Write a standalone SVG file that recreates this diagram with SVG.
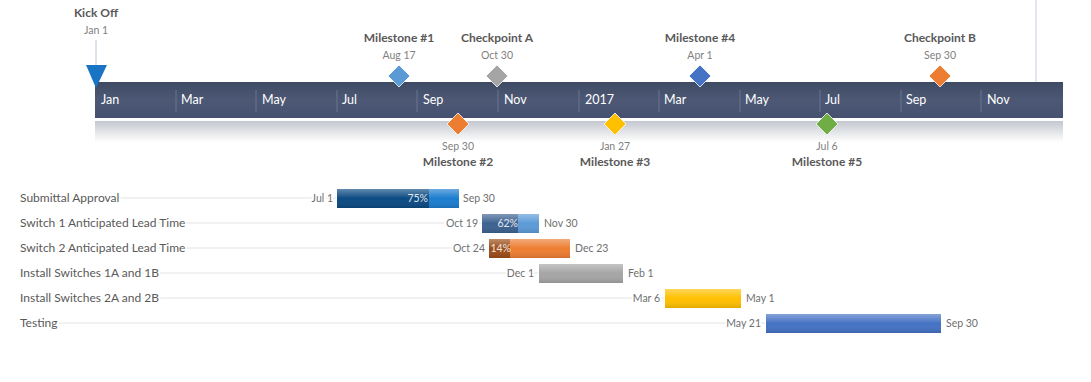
<svg xmlns="http://www.w3.org/2000/svg" width="1091" height="382" viewBox="0 0 1091 382">
<defs>
<linearGradient id="band" x1="0" y1="0" x2="0" y2="1"><stop offset="0" stop-color="#3f4a63"/><stop offset="0.5" stop-color="#4d5875"/><stop offset="1" stop-color="#465170"/></linearGradient>
<linearGradient id="shade" x1="0" y1="0" x2="0" y2="1"><stop offset="0" stop-color="#c3c7cf"/><stop offset="1" stop-color="#ffffff"/></linearGradient>
<linearGradient id="gloss" x1="0" y1="0" x2="0" y2="1"><stop offset="0" stop-color="#fff" stop-opacity="0.35"/><stop offset="0.5" stop-color="#fff" stop-opacity="0"/><stop offset="1" stop-color="#000" stop-opacity="0.12"/></linearGradient>
</defs>
<style>
text{font-family:Lato,"Open Sans","Liberation Sans",sans-serif}
.title{font-size:12px;fill:#595959;font-weight:bold;text-anchor:middle}
.date{font-size:10.5px;fill:#7f7f7f;text-anchor:middle}
.mon{font-size:12.5px;fill:#ffffff}
.sep{stroke:#6a7590;stroke-width:1}
.row{font-size:12px;fill:#595959;stroke:#ffffff;stroke-width:4px;paint-order:stroke}
.gd{font-size:10.5px;fill:#6f6f6f;stroke:#ffffff;stroke-width:4px;paint-order:stroke}
.gl{stroke:#e3e3e3;stroke-width:1}
.pct{font-size:10.5px;fill:#ffffff;opacity:0.85;text-anchor:end}
.dm{stroke:#ffffff;stroke-width:0.8}
</style>
<line x1="1036" y1="0" x2="1036" y2="82" stroke="#c5cde0" stroke-width="1"/>
<g id="timeline">
<rect x="95" y="121" width="968" height="21" fill="url(#shade)"/>
<rect x="95" y="82" width="968" height="36" fill="url(#band)"/>
<line class="sep" x1="176" y1="90" x2="176" y2="112"/>
<line class="sep" x1="256" y1="90" x2="256" y2="112"/>
<line class="sep" x1="337" y1="90" x2="337" y2="112"/>
<line class="sep" x1="417" y1="90" x2="417" y2="112"/>
<line class="sep" x1="498" y1="90" x2="498" y2="112"/>
<line class="sep" x1="579" y1="90" x2="579" y2="112"/>
<line class="sep" x1="659" y1="90" x2="659" y2="112"/>
<line class="sep" x1="740" y1="90" x2="740" y2="112"/>
<line class="sep" x1="820" y1="90" x2="820" y2="112"/>
<line class="sep" x1="901" y1="90" x2="901" y2="112"/>
<line class="sep" x1="981" y1="90" x2="981" y2="112"/>
<text class="mon" x="101" y="104">Jan</text>
<text class="mon" x="181" y="104">Mar</text>
<text class="mon" x="262" y="104">May</text>
<text class="mon" x="342" y="104">Jul</text>
<text class="mon" x="423" y="104">Sep</text>
<text class="mon" x="504" y="104">Nov</text>
<text class="mon" x="585" y="104">2017</text>
<text class="mon" x="664" y="104">Mar</text>
<text class="mon" x="745" y="104">May</text>
<text class="mon" x="825" y="104">Jul</text>
<text class="mon" x="906" y="104">Sep</text>
<text class="mon" x="987" y="104">Nov</text>
</g>
<g id="kickoff">
<line x1="96" y1="40" x2="96" y2="66" stroke="#b8c8e0" stroke-width="1"/>
<polygon points="86,65 107,65 96,88" fill="#1a74c4"/>
<text class="title" x="96" y="17">Kick Off</text>
<text class="date" x="96" y="34">Jan 1</text>
</g>
<g id="m1"><polygon class="dm" points="399,65 410,76 399,87 388,76" fill="#5b9bd5"/><text class="title" x="399" y="42">Milestone #1</text><text class="date" x="399" y="59">Aug 17</text></g>
<g id="cpA"><polygon class="dm" points="497,65 508,76 497,87 486,76" fill="#a5a5a5"/><text class="title" x="497" y="42">Checkpoint A</text><text class="date" x="497" y="59">Oct 30</text></g>
<g id="m4"><polygon class="dm" points="700,65 711,76 700,87 689,76" fill="#4472c4"/><text class="title" x="700" y="42">Milestone #4</text><text class="date" x="700" y="59">Apr 1</text></g>
<g id="cpB"><polygon class="dm" points="940,65 951,76 940,87 929,76" fill="#ed7d31"/><text class="title" x="940" y="42">Checkpoint B</text><text class="date" x="940" y="59">Sep 30</text></g>
<g id="m2"><polygon class="dm" points="458,113 469,124 458,135 447,124" fill="#ed7d31"/><text class="date" x="458" y="150">Sep 30</text><text class="title" x="458" y="166">Milestone #2</text></g>
<g id="m3"><polygon class="dm" points="615,113 626,124 615,135 604,124" fill="#ffc000"/><text class="date" x="615" y="150">Jan 27</text><text class="title" x="615" y="166">Milestone #3</text></g>
<g id="m5"><polygon class="dm" points="827,113 838,124 827,135 816,124" fill="#70ad47"/><text class="date" x="827" y="150">Jul 6</text><text class="title" x="827" y="166">Milestone #5</text></g>
<g id="connectors">
<line class="gl" x1="22" y1="198" x2="336" y2="198"/>
<line class="gl" x1="22" y1="223" x2="481" y2="223"/>
<line class="gl" x1="22" y1="248" x2="488" y2="248"/>
<line class="gl" x1="22" y1="273" x2="538" y2="273"/>
<line class="gl" x1="22" y1="298" x2="664" y2="298"/>
<line class="gl" x1="22" y1="323" x2="765" y2="323"/>
</g>
<g id="task1">
<text class="row" x="20" y="202">Submittal Approval</text>
<rect x="337" y="189" width="122" height="19" fill="#1b7dcf"/>
<rect x="337" y="189" width="92" height="19" fill="#0c4a82"/>
<rect x="337" y="189" width="122" height="19" fill="url(#gloss)"/>
<text class="pct" x="428" y="202">75%</text>
<text class="gd" x="333" y="202" text-anchor="end">Jul 1</text>
<text class="gd" x="463" y="202">Sep 30</text>
</g>
<g id="task2">
<text class="row" x="20" y="227">Switch 1 Anticipated Lead Time</text>
<rect x="482" y="214" width="57" height="19" fill="#5c9ad8"/>
<rect x="482" y="214" width="36" height="19" fill="#3c6290"/>
<rect x="482" y="214" width="57" height="19" fill="url(#gloss)"/>
<text class="pct" x="518" y="227">62%</text>
<text class="gd" x="478" y="227" text-anchor="end">Oct 19</text>
<text class="gd" x="544" y="227">Nov 30</text>
</g>
<g id="task3">
<text class="row" x="20" y="252">Switch 2 Anticipated Lead Time</text>
<rect x="489" y="239" width="81" height="19" fill="#ed7d31"/>
<rect x="489" y="239" width="21" height="19" fill="#9c4d19"/>
<rect x="489" y="239" width="81" height="19" fill="url(#gloss)"/>
<text class="pct" x="511" y="252">14%</text>
<text class="gd" x="485" y="252" text-anchor="end">Oct 24</text>
<text class="gd" x="575" y="252">Dec 23</text>
</g>
<g id="task4">
<text class="row" x="20" y="277">Install Switches 1A and 1B</text>
<rect x="539" y="264" width="84" height="19" fill="#a5a5a5"/>
<rect x="539" y="264" width="84" height="19" fill="url(#gloss)"/>
<text class="gd" x="534" y="277" text-anchor="end">Dec 1</text>
<text class="gd" x="628" y="277">Feb 1</text>
</g>
<g id="task5">
<text class="row" x="20" y="302">Install Switches 2A and 2B</text>
<rect x="665" y="289" width="76" height="19" fill="#ffc000"/>
<rect x="665" y="289" width="76" height="19" fill="url(#gloss)"/>
<text class="gd" x="660" y="302" text-anchor="end">Mar 6</text>
<text class="gd" x="746" y="302">May 1</text>
</g>
<g id="task6">
<text class="row" x="20" y="327">Testing</text>
<rect x="766" y="314" width="175" height="19" fill="#4472c4"/>
<rect x="766" y="314" width="175" height="19" fill="url(#gloss)"/>
<text class="gd" x="761" y="327" text-anchor="end">May 21</text>
<text class="gd" x="946" y="327">Sep 30</text>
</g>
</svg>
